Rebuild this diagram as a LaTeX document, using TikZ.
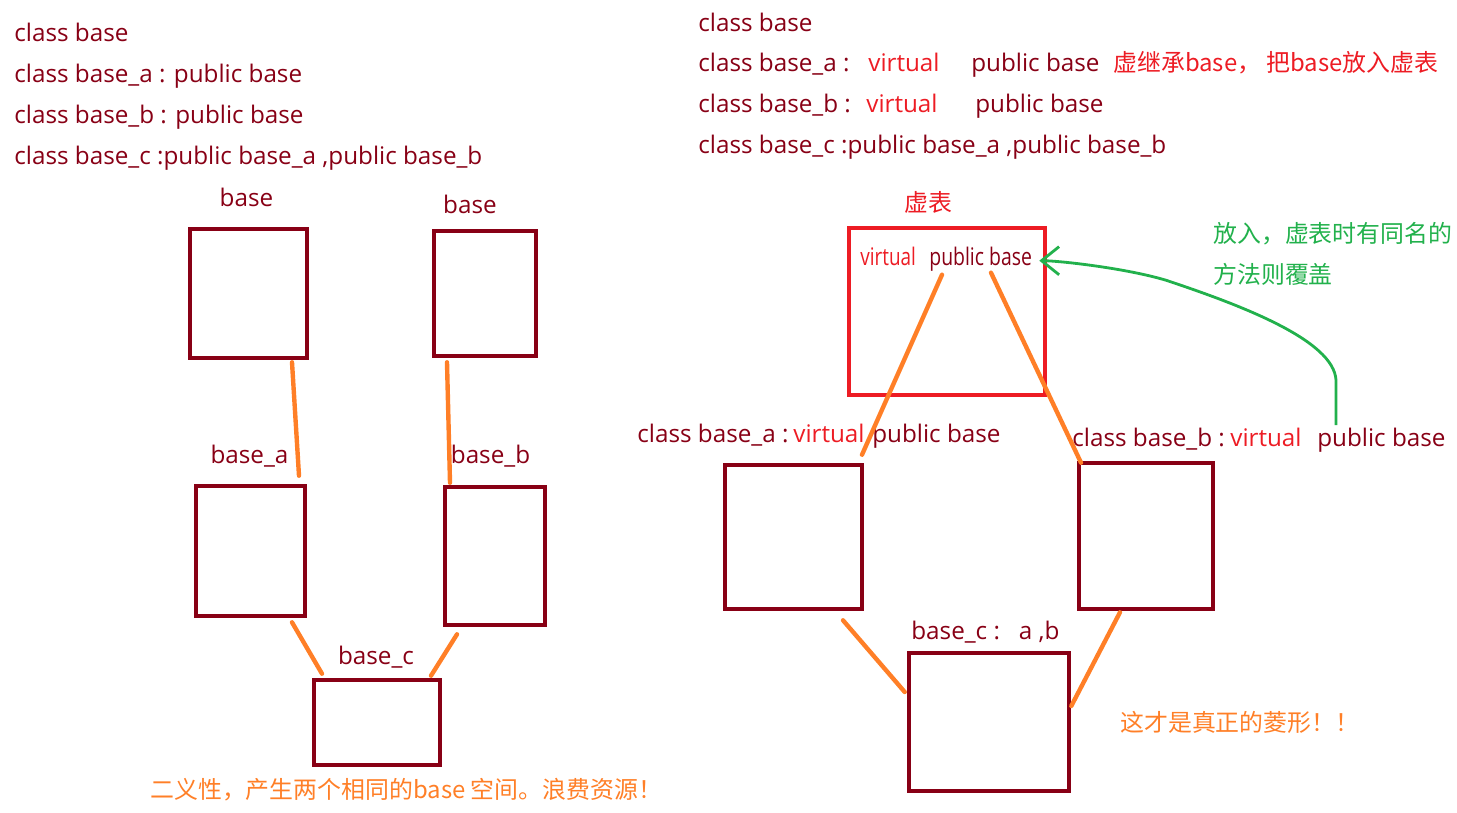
\documentclass[tikz,border=0pt]{standalone}
\usepackage{fontspec}
\setmainfont{Open Sans}
\newfontfamily\cjk{Noto Sans CJK SC}
\usepackage{graphicx}
\usetikzlibrary{arrows.meta,calc}
\definecolor{drk}{HTML}{880015}
\definecolor{rd}{HTML}{ED1C24}
\definecolor{org}{HTML}{FF7F27}
\definecolor{grn}{HTML}{22B14C}
\tikzset{>={Straight Barb[length=10pt,width=16pt]}}
\tikzset{
    cell/.style={draw=drk,line width=2.6pt,inner sep=0pt},
    txt/.style={text=drk,inner sep=0pt,font=\fontsize{13.8}{16}\selectfont},
    vtxt/.style={txt,text=rd},
    cn/.style={inner sep=0pt,font=\cjk\fontsize{13.6}{16}\selectfont},
    link/.style={draw=org,line width=2.5pt,line cap=round},
}
\newcommand{\cell}[6][drk]{
    \node[cell,draw=#1,minimum width={#5*0.02cm},minimum height={#6*0.02cm}] (#2) at (#3,#4) {};
}

\begin{document}
\begin{tikzpicture}[x=0.02cm,y=-0.02cm]
    \useasboundingbox (0,0) rectangle (1457,812);
    % declarations, left
    \node[txt,anchor=base west] (l1) at (14,41) {class base};
    \node[txt,anchor=base west] (l2) at (14,82) {class base\_a : public base};
    \node[txt,anchor=base west] (l3) at (14,123) {class base\_b : public base};
    \node[txt,anchor=base west] (l4) at (14,164) {class base\_c :public base\_a ,public base\_b};
    % declarations, right
    \node[txt,anchor=base west] (r1) at (698,31) {class base};
    \node[txt,anchor=base west] (r2) at (698,71) {class base\_a :};
    \node[vtxt,anchor=base west] (r2v) at (868,71) {virtual};
    \node[txt,anchor=base west] (r2p) at (971,71) {public base};
    \node[cn,text=rd,anchor=base west] (r2n) at (1113,71) {虚继承base， 把base放入虚表};
    \node[txt,anchor=base west] (r3) at (698,112) {class base\_b :};
    \node[vtxt,anchor=base west] (r3v) at (866,112) {virtual};
    \node[txt,anchor=base west] (r3p) at (975,112) {public base};
    \node[txt,anchor=base west] (r4) at (698,153) {class base\_c :public base\_a ,public base\_b};

    % left diagram
    \cell{b1}{248.5}{293.5}{117}{129}
    \cell{b2}{485}{293.5}{102}{125}
    \cell{ba}{250.5}{551}{109}{130}
    \cell{bb}{495}{556}{100}{138}
    \cell{bc}{377}{722.5}{126}{85}
    \node[txt,anchor=base] (b1l) at (246.5,206) {base};
    \node[txt,anchor=base] (b2l) at (470,213) {base};
    \node[txt,anchor=base] (bal) at (249.5,463) {base\_a};
    \node[txt,anchor=base] (bbl) at (490.5,463) {base\_b};
    \node[txt,anchor=base] (bcl) at (376,664) {base\_c};
    \draw[link] ($(b1.south)+(43.5,2)$) -- ($(ba.north)+(48.5,-8)$);
    \draw[link] ($(b2.south)+(-38,4)$) -- ($(bb.north)+(-45,-2)$);
    \draw[link] ($(ba.south)+(41.5,4)$) -- ($(bc.north)+(-55,-4)$);
    \draw[link] ($(bb.south)+(-38,7)$) -- ($(bc.north)+(54,-2)$);
    \node[cn,text=org,anchor=west] (waste) at (150,790) {二义性，产生两个相同的base 空间。浪费资源！};

    % right diagram
    \cell[rd]{vt}{947}{311.5}{196}{167}
    \cell{ra}{793.5}{537}{137}{144}
    \cell{rb}{1146}{536}{134}{146}
    \cell{rc}{989}{722}{160}{138}
    \node[cn,text=rd] (vtl) at (928,202) {虚表};
    \node[vtxt,anchor=base west] (vvir) at (860,265) {\scalebox{0.78}[1]{virtual}};
    \node[txt,anchor=base west] (vpub) at (929,265) {\scalebox{0.8}[1]{public base}};
    \node[txt,anchor=base west] (ral) at (637,442) {class base\_a :};
    \node[vtxt,anchor=base west] (rav) at (793,442) {virtual};
    \node[txt,anchor=base west] (rap) at (872,442) {public base};
    \node[txt,anchor=base west] (rbl) at (1072,446) {class base\_b :};
    \node[vtxt,anchor=base west] (rbv) at (1230,446) {virtual};
    \node[txt,anchor=base west] (bpub) at (1317,446) {public base};
    \node[txt,anchor=base west] (rcl) at (911,639) {base\_c :\ \ \ a ,b};
    \draw[link] ($(vt.north)+(-5,49)$) -- ($(ra.north)+(68.5,-8)$);
    \draw[link] ($(vt.north)+(44,47)$) -- ($(rb.north)+(-65,2)$);
    \draw[link] ($(ra.south)+(49.5,9)$) -- ($(rc.west)+(-2,-30)$);
    \draw[link] ($(rb.south)+(-26,1)$) -- ($(rc.east)+(0,-16)$);
    \draw[grn,line width=1.6pt,->] ($(bpub.north west)+(19,-2)$) -- ++(0,-45)
        .. controls +(-2,-40) and +(75,25) .. ++(-170,-100)
        .. controls +(-40,-12) and +(20,0) .. ($(vpub.east)+(7,2)$);
    \node[cn,text=grn,anchor=west] (note1) at (1213,234) {放入，虚表时有同名的};
    \node[cn,text=grn,anchor=west] (note2) at (1213,274) {方法则覆盖};
    \node[cn,text=org,anchor=west] (real) at (1120,722) {这才是真正的菱形！！};
\end{tikzpicture}
\end{document}
